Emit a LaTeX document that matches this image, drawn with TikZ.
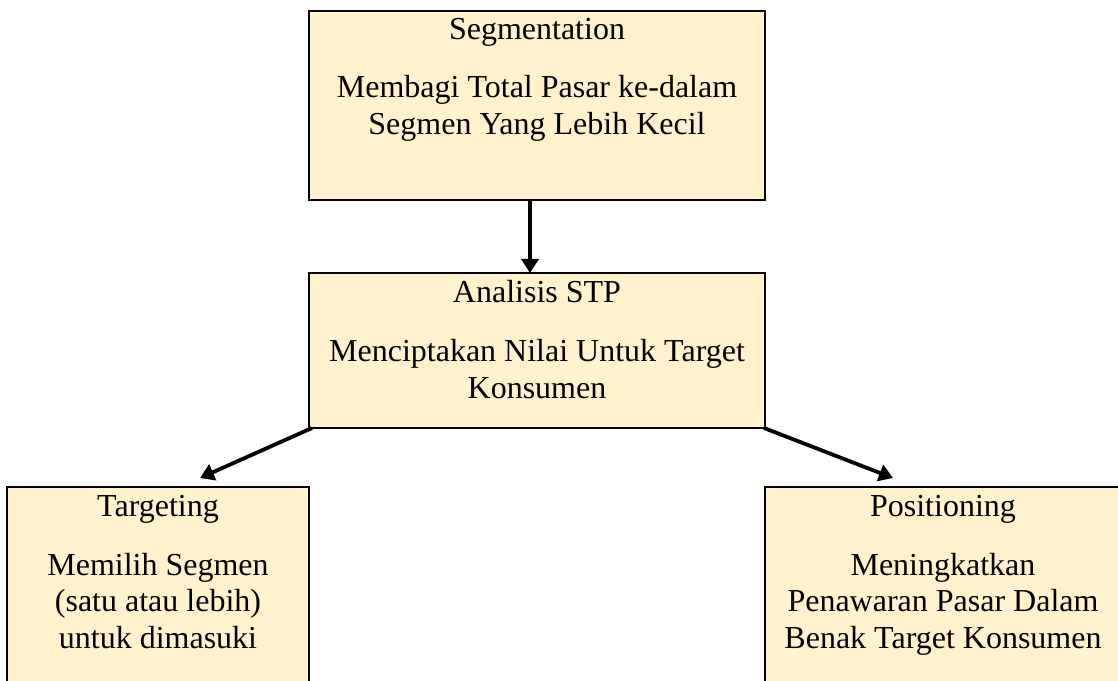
\documentclass[tikz,border=0pt]{standalone}
\usepackage{fontspec}
\setmainfont{Liberation Serif}
\usetikzlibrary{arrows.meta}
\definecolor{boxfill}{HTML}{FFF2CC}
\newcommand\boxlines[1]{\begin{tabular}[t]{@{}c@{}}#1\end{tabular}}
\begin{document}
\begin{tikzpicture}[x=1pt,y=1pt,
  stpbox/.style={draw=black, line width=2.8pt, fill=boxfill, rectangle,
    inner sep=0pt, outer sep=0pt, anchor=north west},
  stptext/.style={anchor=base, inner sep=0pt,
    font=\fontsize{32}{36.5}\selectfont},
  arr/.style={line width=3.8pt, -{Triangle[length=14pt,width=17pt]}}]
\useasboundingbox (0,0) rectangle (1118,680);
\clip (0,0) rectangle (1118,680);

% boxes
\node[stpbox, minimum width=456pt, minimum height=189pt] (seg) at (309,669) {};
\node[stpbox, minimum width=456pt, minimum height=155pt] (stp) at (309,407) {};
\node[stpbox, minimum width=302pt, minimum height=220pt] (tgt) at (7,193) {};
\node[stpbox, minimum width=356pt, minimum height=220pt] (pos) at (765,193) {};

% texts
\node[stptext] (segT) at (537,640) {Segmentation};
\node[stptext] (segB) at (537,582) {\boxlines{Membagi Total Pasar ke-dalam\\Segmen Yang Lebih Kecil}};
\node[stptext] (stpT) at (537,377) {Analisis STP};
\node[stptext] (stpB) at (537,318) {\boxlines{Menciptakan Nilai Untuk Target\\Konsumen}};
\node[stptext] (tgtT) at (158,163) {Targeting};
\node[stptext] (tgtB) at (158,105) {\boxlines{Memilih Segmen\\(satu atau lebih)\\untuk dimasuki}};
\node[stptext] (posT) at (943,163) {Positioning};
\node[stptext] (posB) at (943,105) {\boxlines{Meningkatkan\\Penawaran Pasar Dalam\\Benak Target Konsumen}};

% connectors
\coordinate (tgtIn) at ([shift={(42,9)}]tgt.north);
\coordinate (posIn) at ([shift={(-50,9)}]pos.north);
\draw[arr] ([xshift=-7pt]seg.south) -- ([xshift=-7pt]stp.north);
\draw[arr] ([xshift=3pt]stp.south west) -- (tgtIn);
\draw[arr] ([xshift=-1pt]stp.south east) -- (posIn);
\end{tikzpicture}
\end{document}
